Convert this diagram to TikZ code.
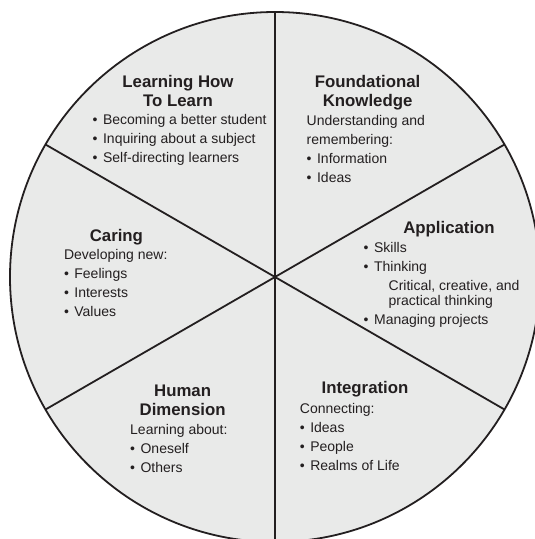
\documentclass[tikz,border=0pt]{standalone}
\usepackage{fontspec}
\setmainfont{Liberation Sans}
\usetikzlibrary{positioning}

\definecolor{wheelfill}{RGB}{233,234,233}
\definecolor{ink}{RGB}{35,31,32}
\newcommand{\itm}{\textbullet\hspace{5.5pt}}

\begin{document}
\begin{tikzpicture}[x=1pt, y=-1pt,
    title/.style={font=\fontsize{16.8}{19}\selectfont\bfseries, text=ink, align=center, anchor=base, inner sep=0pt},
    body/.style={font=\fontsize{14}{19}\selectfont, text=ink, align=left, anchor=base west, inner sep=0pt},
    spoke/.style={draw=ink, line width=1.8pt}]
    \useasboundingbox (0,0) rectangle (535,539);
    \clip (0,0) rectangle (535,539);

    % wheel and its six spokes
    \coordinate (c) at (275,277);
    \draw[spoke, fill=wheelfill] (c) circle (265pt);
    \foreach \a in {30,90,...,330}
        \draw[spoke] (c) -- +(\a:265pt);

    % multi-line nodes sit on the baseline of their last line
    \node[title] (learn) at (178,106) {Learning How\\To Learn};
    \node[body] (learnlist) at (92.5,162.4) {\itm Becoming a better student\\\itm Inquiring about a subject\\\itm Self-directing learners};

    \node[title] (found) at (367.6,106) {Foundational\\Knowledge};
    \node[body] (foundlist) at (306.5,182) {Understanding and\\remembering:\\\itm Information\\\itm Ideas};

    \node[title] (appl) at (449,233) {Application};
    \node[body] (appllist) at (363.5,324.5) {\itm Skills\\\itm Thinking\\\hspace*{25pt}Critical, creative, and\\[-3.6pt]\hspace*{25pt}practical thinking\\\itm Managing projects};

    \node[title] (caring) at (116.4,241) {Caring};
    \node[body] (caringlist) at (63.8,316.7) {Developing new:\\\itm Feelings\\\itm Interests\\\itm Values};

    \node[title] (human) at (182.6,415) {Human\\Dimension};
    \node[body] (humanlist) at (130,472) {Learning about:\\\itm Oneself\\\itm Others};

    \node[title] (integ) at (365,393.3) {Integration};
    \node[body] (integlist) at (299.7,470.5) {Connecting:\\\itm Ideas\\\itm People\\\itm Realms of Life};
\end{tikzpicture}
\end{document}
